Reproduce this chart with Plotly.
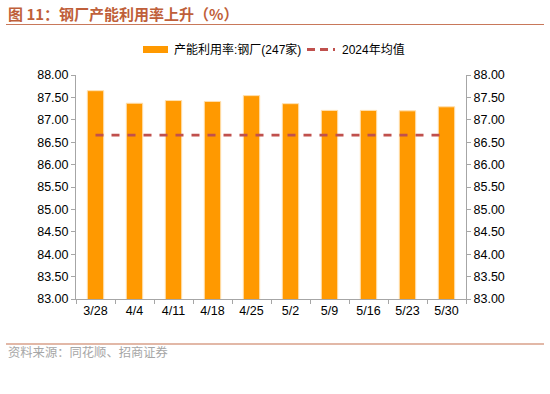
import plotly.graph_objects as go

categories = ["3/28", "4/4", "4/11", "4/18", "4/25", "5/2", "5/9", "5/16", "5/23", "5/30"]
utilization = [87.65, 87.37, 87.43, 87.41, 87.54, 87.36, 87.21, 87.21, 87.20, 87.29]
avg_2024 = [86.66] * len(categories)
ytick_vals = [83.0, 83.5, 84.0, 84.5, 85.0, 85.5, 86.0, 86.5, 87.0, 87.5, 88.0]
ytick_text = [f"{v:.2f}" for v in ytick_vals]

bar_name = "产能利用率:钢厂(247家)"
line_name = "2024年均值"
title_text = "图 11：钢厂产能利用率上升（%）"
source_text = "资料来源：同花顺、招商证券"

ORANGE = "#FF9900"
RED = "#C0504D"
AXIS = "#A6A6A6"
FONT = "Liberation Sans, Arial, Noto Sans CJK SC, sans-serif"

W, H = 550, 394
PL, PR, PT, PB = 76, 466, 75, 299  # plot area in px
PW, PH = PR - PL, PB - PT


def px(x):
    return (x - PL) / PW


def py(y):
    return (PB - y) / PH


fig = go.Figure()
fig.add_trace(go.Bar(
    x=categories, y=utilization, name=bar_name,
    marker=dict(color=ORANGE, line=dict(color="#FFE0B0", width=1)),
    width=0.42, showlegend=False,
))
fig.add_trace(go.Scatter(
    x=categories, y=avg_2024, name=line_name, mode="lines",
    line=dict(color=RED, width=2.8, dash="8px,8px"),
    yaxis="y2", showlegend=False,
))

yaxis_common = dict(
    range=[83, 88], tickvals=ytick_vals, ticktext=ytick_text,
    showgrid=False, zeroline=False, showline=True, linecolor=AXIS, linewidth=1,
    ticks="outside", ticklen=4, tickcolor=AXIS,
    tickfont=dict(family=FONT, size=12.5, color="#000000"),
)

fig.update_layout(
    width=W, height=H,
    margin=dict(l=PL, r=W - PR, t=PT, b=H - PB),
    paper_bgcolor="white", plot_bgcolor="white",
    font=dict(family=FONT),
    xaxis=dict(
        showgrid=False, showline=True, linecolor=AXIS, linewidth=1,
        ticks="outside", tickson="boundaries", ticklen=4, tickcolor=AXIS,
        tickfont=dict(family=FONT, size=12.5, color="#000000"),
    ),
    yaxis=dict(side="left", **yaxis_common),
    yaxis2=dict(side="right", overlaying="y", **yaxis_common),
)

shapes = [
    dict(type="line", xref="paper", yref="paper", x0=px(6), x1=px(544),
         y0=py(24.5), y1=py(24.5), line=dict(color="#C8785A", width=1.2)),
    dict(type="line", xref="paper", yref="paper", x0=px(6), x1=px(544),
         y0=py(344), y1=py(344), line=dict(color="#D9A08A", width=1.5)),
    dict(type="rect", xref="paper", yref="paper", x0=px(143), x1=px(168),
         y0=py(53), y1=py(46), fillcolor=ORANGE, line=dict(width=0)),
    dict(type="line", xref="paper", yref="paper", x0=px(307), x1=px(335),
         y0=py(49.5), y1=py(49.5), line=dict(color=RED, width=2.8, dash="8px,5px")),
]

annotations = [
    dict(text=title_text, xref="paper", yref="paper", x=px(6), y=py(13.5),
         xanchor="left", yanchor="middle", showarrow=False,
         font=dict(family="Noto Sans CJK SC, sans-serif", size=15, color="#BF5F3A", weight="bold")),
    dict(text=source_text, xref="paper", yref="paper", x=px(6), y=py(352),
         xanchor="left", yanchor="middle", showarrow=False,
         font=dict(family="Noto Sans CJK SC, sans-serif", size=12.3, color="#A6A6A6")),
    dict(text=bar_name, xref="paper", yref="paper", x=px(172), y=py(49.5),
         xanchor="left", yanchor="middle", showarrow=False,
         font=dict(family=FONT, size=12, color="#000000")),
    dict(text=line_name, xref="paper", yref="paper", x=px(340), y=py(49.5),
         xanchor="left", yanchor="middle", showarrow=False,
         font=dict(family=FONT, size=12, color="#000000")),
]

fig.update_layout(shapes=shapes, annotations=annotations)
fig.write_html("out.html", config={"displayModeBar": False},
               post_script="document.body.style.margin='0';")
